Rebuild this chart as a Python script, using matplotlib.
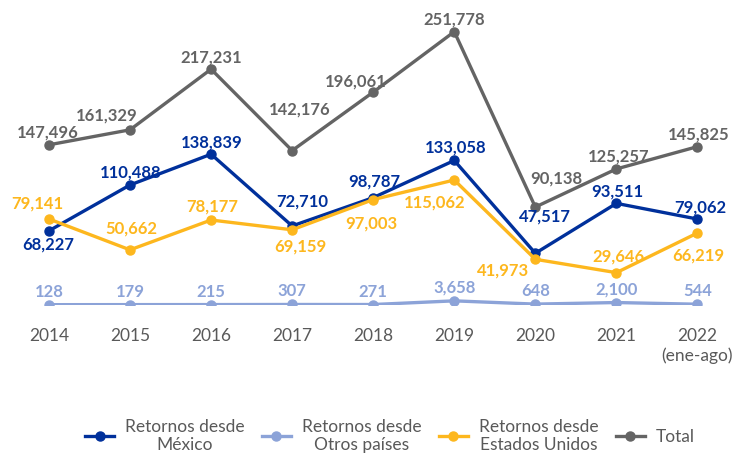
"""Retornos por año: México, otros países, Estados Unidos y total"""
import matplotlib
matplotlib.use("Agg")
import matplotlib.pyplot as plt

years = ["2014", "2015", "2016", "2017", "2018", "2019", "2020", "2021", "2022\n(ene-ago)"]
mexico = [68227, 110488, 138839, 72710, 98787, 133058, 47517, 93511, 79062]
otros = [128, 179, 215, 307, 271, 3658, 648, 2100, 544]
eeuu = [79141, 50662, 78177, 69159, 97003, 115062, 41973, 29646, 66219]
total = [147496, 161329, 217231, 142176, 196061, 251778, 90138, 125257, 145825]

# label offsets in pixels (dx, dy) from each point
off_mexico = [(-1, -14), (1, 12), (1, 12), (10, 24), (1, 16), (1, 13), (10, 37), (1, 12), (3, 12)]
off_otros = [(0, 13)] * 9
off_eeuu = [(-12, 15), (1, 21), (1, 13), (8, -17), (-2, -24), (-20, -23), (-32, -11), (2, 16), (1, -23)]
off_total = [(-1, 12), (-23, 14), (0, 12), (8, 41), (-17, 11), (0, 12), (21, 29), (2, 12), (1, 12)]

plt.rcParams["font.family"] = ["Lato", "DejaVu Sans"]

fig = plt.figure(figsize=(7.38, 4.54), dpi=100)
ax = fig.add_axes([0.0114, 0.3286, 0.9886, 0.6714])

series = [
    ("Retornos desde\nMéxico", mexico, "#00309B", off_mexico),
    ("Retornos desde\nOtros países", otros, "#8CA3D8", off_otros),
    ("Retornos desde\nEstados Unidos", eeuu, "#FDB71E", off_eeuu),
    ("Total", total, "#646464", off_total),
]

x = list(range(len(years)))
draw_order = [1, 2, 0, 3]
handles = {}
for i in draw_order:
    name, vals, color, offs = series[i]
    (ln,) = ax.plot(x, vals, color=color, lw=2.4, marker="o", ms=6.5, label=name, zorder=3 + i)
    handles[i] = ln
    for xi, v, (dx, dy) in zip(x, vals, offs):
        ax.annotate(f"{v:,}", (xi, v), xytext=(dx, dy), textcoords="offset pixels",
                    ha="center", va="center", color=color, fontsize=12,
                    fontweight="bold", zorder=10)

ax.set_xlim(-0.5, len(years) - 0.5)
ax.set_ylim(0, 281000)
ax.set_xticks(x)
ax.set_xticklabels(years, color="#595959", fontsize=12.5)
ax.tick_params(axis="x", length=0, pad=17)
ax.set_yticks([])
for s in ax.spines.values():
    s.set_visible(False)

leg = fig.legend([handles[i] for i in range(4)], [series[i][0] for i in range(4)],
                 loc="center", bbox_to_anchor=(0.528, 0.04), ncol=4, frameon=False,
                 fontsize=12.5, handlelength=1.7, columnspacing=1.0, handletextpad=0.6,
                 labelcolor="#595959", labelspacing=0.2)
for t in leg.get_texts():
    t.set_multialignment("center")

fig.savefig("out.png", dpi=100)
